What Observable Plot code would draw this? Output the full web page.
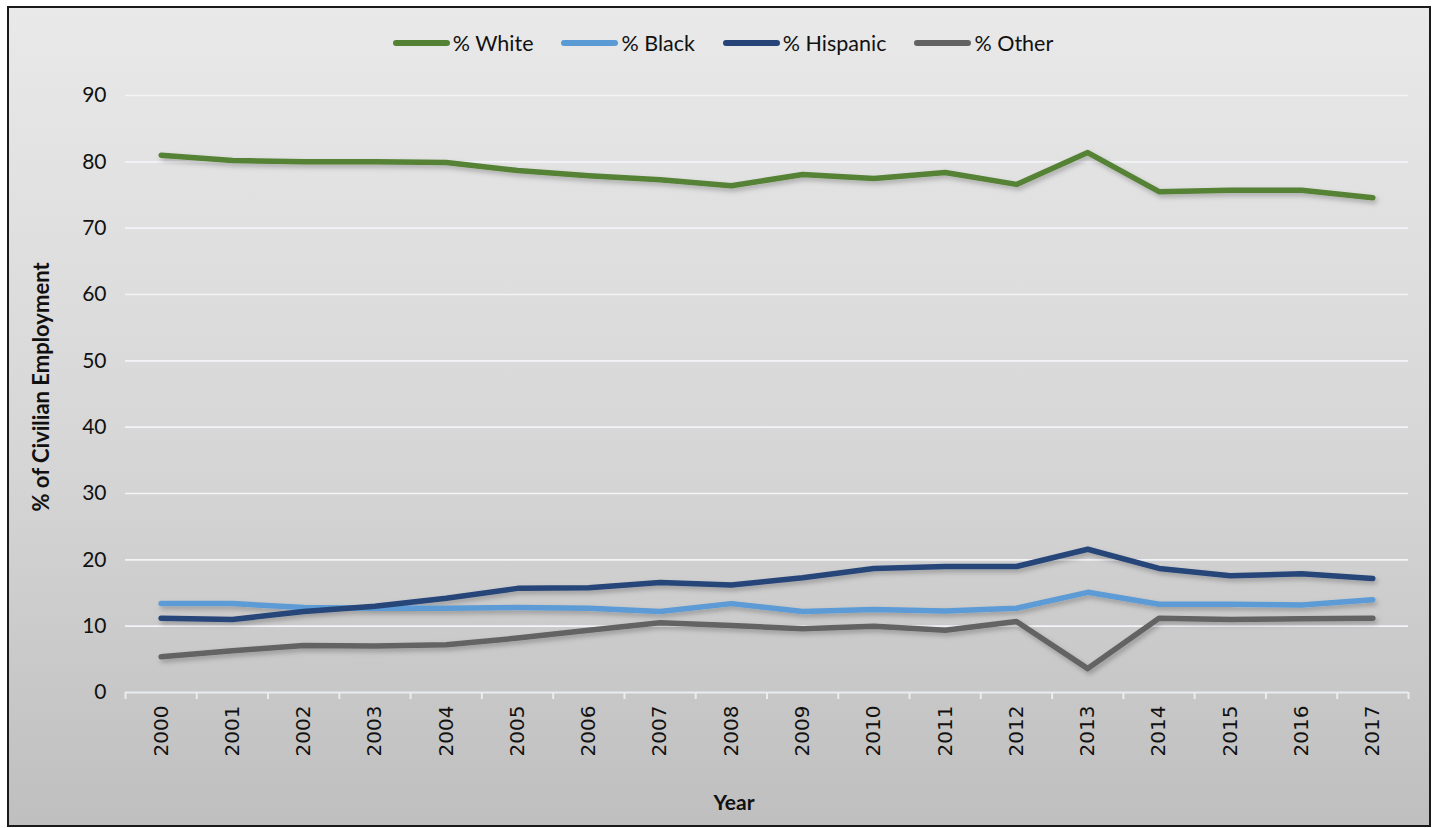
<!DOCTYPE html>
<html>
<head>
<meta charset="utf-8">
<script src="https://cdn.jsdelivr.net/npm/d3@7"></script>
<script src="https://cdn.jsdelivr.net/npm/@observablehq/plot@0.6"></script>
<style>
  html, body { margin: 0; padding: 0; background: #ffffff; }
  #box {
    position: absolute; left: 7px; top: 6px; width: 1424px; height: 821px;
    box-sizing: border-box; border: 2px solid #1a1a1a;
    background: linear-gradient(to bottom, #e9e9e9 0%, #d6d6d6 55%, #bfbfbf 100%);
    font-family: Lato, "Open Sans", sans-serif;
  }
  #legend {
    height: 70px; display: flex; justify-content: center; align-items: center;
    padding-left: 8px; font-size: 21.5px; color: #111;
  }
  .item { display: flex; align-items: center; margin: 0 14px; }
  .sw { width: 57px; height: 6px; border-radius: 3px; margin-right: 3px; }
  svg { display: block; overflow: visible; }
</style>
</head>
<body>
<div id="box">
  <div id="legend"></div>
  <div id="chart"></div>
</div>
<script>
const years = [2000,2001,2002,2003,2004,2005,2006,2007,2008,2009,2010,2011,2012,2013,2014,2015,2016,2017];
const seriesNames = ["% White", "% Black", "% Hispanic", "% Other"];
const seriesColors = ["#548235", "#5b9bd5", "#264478", "#636363"];
const white    = [81.0,80.2,80.0,80.0,79.9,78.7,77.9,77.3,76.4,78.1,77.5,78.4,76.6,81.4,75.5,75.7,75.7,74.6];
const black    = [13.4,13.4,12.8,12.7,12.7,12.8,12.7,12.2,13.4,12.2,12.5,12.3,12.7,15.1,13.3,13.3,13.2,14.0];
const hispanic = [11.2,11.0,12.2,13.0,14.2,15.7,15.8,16.6,16.2,17.3,18.7,19.0,19.0,21.6,18.7,17.6,17.9,17.2];
const other    = [5.4,6.3,7.1,7.0,7.2,8.2,9.4,10.5,10.1,9.6,10.0,9.4,10.7,3.6,11.2,11.0,11.1,11.2];
const yTicks = [0,10,20,30,40,50,60,70,80,90];
const yLabel = "% of Civilian Employment";
const xLabel = "Year";

const valuesBySeries = [white, black, hispanic, other];
const data = [];
seriesNames.forEach((s, i) => years.forEach((yr, j) => data.push({series: s, year: yr, value: valuesBySeries[i][j]})));
const edges = years.map(y => y - 0.5).concat([years[years.length - 1] + 0.5]);

// legend
const lg = document.getElementById("legend");
seriesNames.forEach((s, i) => {
  const it = document.createElement("div"); it.className = "item";
  const sw = document.createElement("div"); sw.className = "sw"; sw.style.background = seriesColors[i];
  const tx = document.createElement("span"); tx.textContent = s;
  it.appendChild(sw); it.appendChild(tx); lg.appendChild(it);
});

const chart = Plot.plot({
  width: 1420,
  height: 747,
  marginTop: 17,
  marginBottom: 133,
  marginLeft: 116,
  marginRight: 21,
  style: {background: "transparent", fontFamily: "Lato, sans-serif", color: "#111"},
  x: {domain: [years[0] - 0.5, years[years.length - 1] + 0.5]},
  y: {domain: [0, 90]},
  color: {domain: seriesNames, range: seriesColors},
  marks: [
    Plot.ruleY(yTicks.filter(d => d > 0), {stroke: "#f2f4f8", strokeWidth: 1.6}),
    Plot.ruleY([0], {stroke: "#e9ecf0", strokeWidth: 2}),
    Plot.axisX(edges, {tickSize: 7, tickFormat: () => "", stroke: "#e9ecf0", strokeWidth: 2, label: null}),
    Plot.axisX(years, {tickSize: 0, tickPadding: 13, tickRotate: -90, tickFormat: d => String(d),
      fontSize: 20, fontFamily: "DejaVu Sans, sans-serif", label: null}),
    Plot.axisY(yTicks, {tickSize: 0, tickPadding: 19, fontSize: 21, label: null}),
    Plot.line(data, {x: "year", y: "value", z: "series", stroke: "series", strokeWidth: 5.5,
      strokeLinecap: "round", strokeLinejoin: "round"}),
    Plot.text([yLabel], {frameAnchor: "left", dx: -84, dy: -7, rotate: -90, textAnchor: "middle",
      fontSize: 22, fontWeight: "bold", fill: "#111"}),
    Plot.text([xLabel], {frameAnchor: "bottom", dx: -33, dy: 117, fontSize: 21, fontWeight: "bold", fill: "#111"})
  ]
});

// drop shadow for lines
const svg = d3.select(chart);
const defs = svg.insert("defs", ":first-child");
defs.append("filter").attr("id", "shadow").attr("x", "-5%").attr("y", "-20%").attr("width", "110%").attr("height", "140%")
  .append("feDropShadow").attr("dx", 2).attr("dy", 3).attr("stdDeviation", 2.5)
  .attr("flood-color", "#000").attr("flood-opacity", 0.25);
svg.selectAll("g[aria-label='line']").attr("filter", "url(#shadow)");

document.getElementById("chart").appendChild(chart);
</script>
</body>
</html>
